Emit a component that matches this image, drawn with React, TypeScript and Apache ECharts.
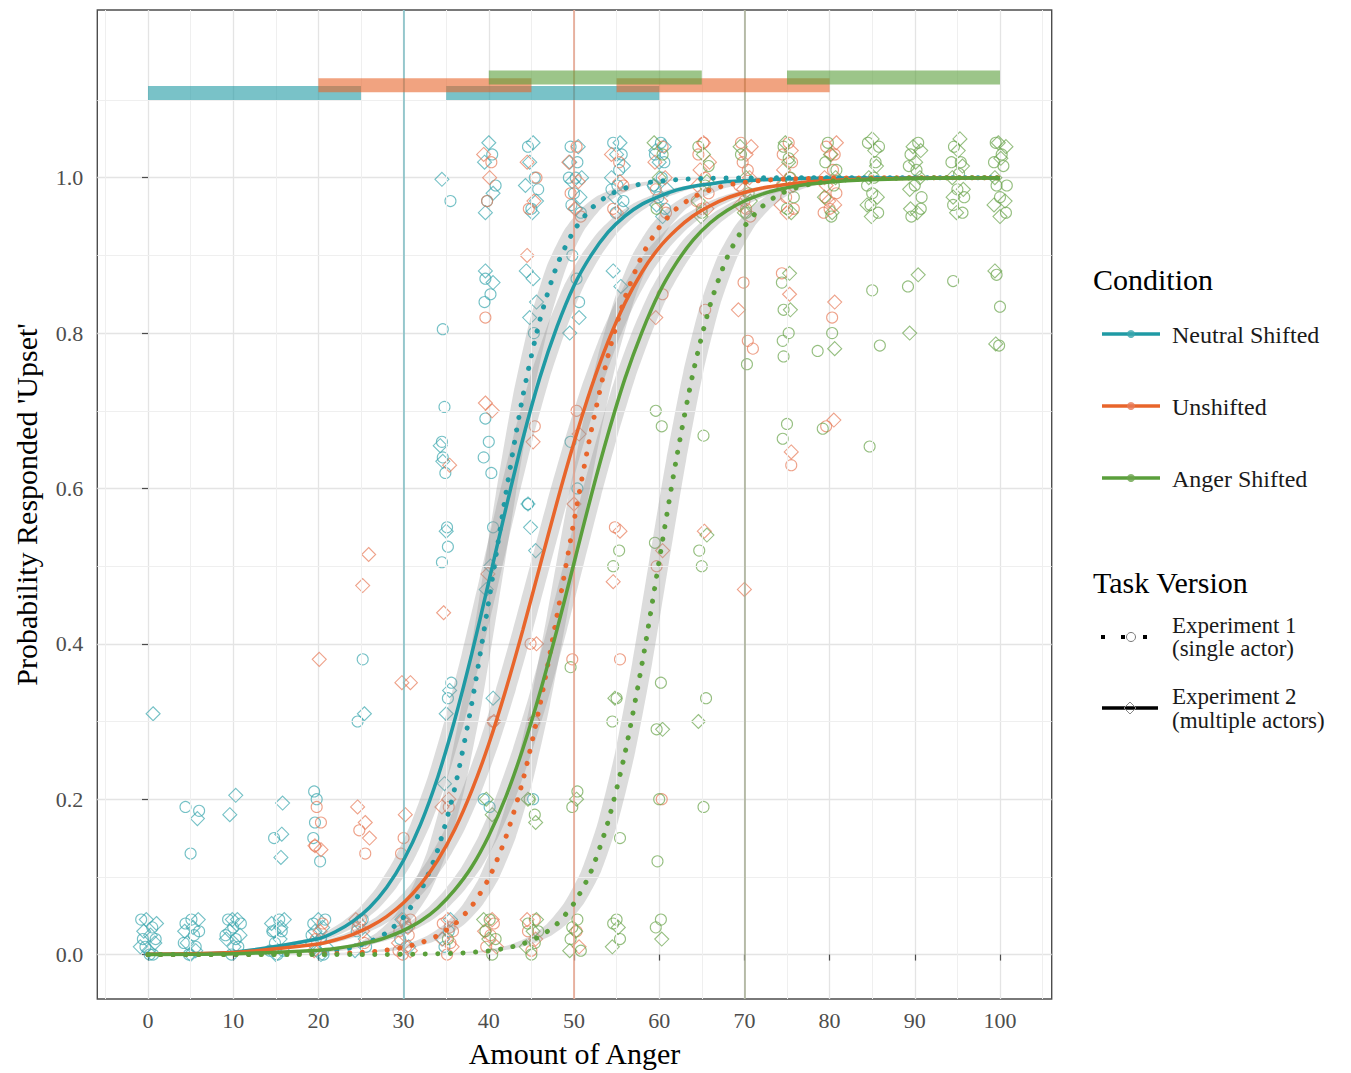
import React, { useEffect, useRef } from 'react';
import * as echarts from 'echarts';

const FONT = "'Liberation Serif', 'DejaVu Serif', 'Times New Roman', serif";

// ---------- axes ----------
const X_MIN = -5.95;
const X_MAX = 106.07;
const Y_MIN = -0.0572;
const Y_MAX = 1.2159;
const X_TICKS = [0, 10, 20, 30, 40, 50, 60, 70, 80, 90, 100];
const Y_TICKS = [0, 0.2, 0.4, 0.6, 0.8, 1.0];
const X_MINOR = [-5, 5, 15, 25, 35, 45, 55, 65, 75, 85, 95, 105];
const Y_MINOR = [0.1, 0.3, 0.5, 0.7, 0.9, 1.1];
const REF_LINES = [30, 50, 70];

// ---------- categories ----------
const CONDITIONS = ['Neutral Shifted', 'Unshifted', 'Anger Shifted'];
const VERSIONS = ['Experiment 1\n(single actor)', 'Experiment 2\n(multiple actors)'];
const LINE_COLORS = ['#1f9aa4', '#e8652b', '#5a9f3b'];
const POINT_COLORS = ['#3aa6ae', '#e77a58', '#6aa44b'];
const REF_COLORS = ['#7cbdc3', '#e6a08a', '#a6ad93'];

// ---------- fitted curves: anger levels and probability read at each ----------
const CURVE_X = [0, 10, 20, 22, 24, 26, 28, 30, 32, 34, 36, 38, 40, 42, 44, 46, 48, 50, 52, 54, 56, 58, 60, 62, 64, 66, 68, 70, 72, 74, 76, 78, 82, 90, 100];
const NEU_E1_CURVE = [0, 0.0002, 0.0031, 0.0054, 0.0094, 0.0163, 0.0282, 0.0483, 0.0816, 0.1347, 0.214, 0.323, 0.455, 0.593, 0.719, 0.817, 0.887, 0.932, 0.96, 0.977, 0.9866, 0.9923, 0.9956, 0.9975, 0.9986, 0.9992, 0.9995, 0.9997, 0.9998, 0.9999, 1, 1, 1, 1, 1];
const NEU_E2_CURVE = [0.0005, 0.0031, 0.0203, 0.0293, 0.0424, 0.0607, 0.0864, 0.1214, 0.168, 0.228, 0.302, 0.387, 0.48, 0.574, 0.664, 0.743, 0.808, 0.861, 0.9, 0.93, 0.951, 0.966, 0.976, 0.984, 0.989, 0.992, 0.995, 0.996, 0.9975, 0.998, 0.9988, 0.9992, 0.9996, 0.9999, 1];
const UNS_E1_CURVE = [0, 0.0001, 0.0008, 0.0013, 0.0022, 0.0035, 0.0057, 0.0093, 0.0151, 0.0244, 0.0392, 0.0625, 0.098, 0.151, 0.224, 0.321, 0.436, 0.558, 0.673, 0.771, 0.846, 0.9, 0.936, 0.96, 0.975, 0.9845, 0.9905, 0.9941, 0.9964, 0.9978, 0.9986, 0.9992, 0.9997, 1, 1];
const UNS_E2_CURVE = [0.0005, 0.0026, 0.0135, 0.0187, 0.0258, 0.0356, 0.0488, 0.0666, 0.0903, 0.1213, 0.161, 0.211, 0.271, 0.341, 0.418, 0.5, 0.582, 0.659, 0.729, 0.789, 0.839, 0.879, 0.91, 0.933, 0.951, 0.964, 0.974, 0.981, 0.9865, 0.99, 0.993, 0.995, 0.9974, 0.9993, 0.9999];
const ANG_E1_CURVE = [0, 0, 0, 0, 0.0001, 0.0001, 0.0002, 0.0003, 0.0006, 0.001, 0.0016, 0.0028, 0.0048, 0.0082, 0.0139, 0.0235, 0.0395, 0.066, 0.107, 0.171, 0.26, 0.375, 0.507, 0.637, 0.75, 0.837, 0.898, 0.937, 0.962, 0.978, 0.9868, 0.9922, 0.9973, 0.9997, 1];
const ANG_E2_CURVE = [0.0002, 0.001, 0.0057, 0.0079, 0.0112, 0.0158, 0.0221, 0.0311, 0.0431, 0.06, 0.0832, 0.113, 0.153, 0.203, 0.265, 0.337, 0.418, 0.504, 0.59, 0.67, 0.742, 0.802, 0.852, 0.89, 0.92, 0.942, 0.958, 0.97, 0.9786, 0.9848, 0.9892, 0.9923, 0.9961, 0.999, 0.9998];

// ---------- significance bars [from, to] and their heights ----------
const NEU_BARS = [[0, 25], [35, 60]];
const UNS_BARS = [[20, 45], [55, 80]];
const ANG_BARS = [[40, 65], [75, 100]];
const BAR_Y = [1.109, 1.119, 1.129];

// ---------- observed (jittered) responses ----------
const NEU_E1_PTS = [
  [-0.3, 0.01], [0.5, 0.035], [0.9, 0.02], [-0.8, 0.045], [0.2, 0.0], [0.6, 0.0], [-0.6, 0.02],
  [4.4, 0.04], [5.6, 0.01], [5.1, 0.045], [4.8, 0.0], [6.0, 0.03], [5.4, 0.025], [4.2, 0.015],
  [9.4, 0.045], [10.3, 0.02], [10.9, 0.04], [9.8, 0.0], [10.6, 0.01], [10.0, 0.035], [9.1, 0.025],
  [14.6, 0.03], [15.4, 0.045], [15.9, 0.005], [14.9, 0.015], [15.2, 0.0], [15.7, 0.03], [14.3, 0.005],
  [19.4, 0.04], [20.3, 0.02], [20.8, 0.045], [19.8, 0.005], [20.6, 0.0], [19.2, 0.025],
  [24.5, 0.03], [25.6, 0.01], [25.2, 0.045], [29.6, 0.02], [30.4, 0.035], [35.3, 0.03], [34.8, 0.01],
  [4.4, 0.19], [5.0, 0.13], [6.0, 0.185], [14.8, 0.15], [19.5, 0.21], [19.8, 0.2], [19.6, 0.17], [19.4, 0.15], [20.2, 0.12], [25.2, 0.38], [24.6, 0.3],
  [34.6, 0.805], [34.8, 0.705], [34.5, 0.66], [34.6, 0.64], [34.9, 0.62], [35.1, 0.55], [35.2, 0.525], [34.5, 0.505], [35.6, 0.35], [35.2, 0.33],
  [39.6, 0.87], [39.5, 0.84], [40.2, 0.85], [39.6, 0.69], [40.0, 0.66], [39.4, 0.64], [40.3, 0.62], [39.4, 0.2], [40.1, 0.19], [40.5, 0.55],
  [45.3, 0.8], [44.6, 0.58], [45.2, 0.2], [49.8, 0.9], [50.3, 0.87], [50.6, 0.84], [49.6, 0.66], [50.4, 0.6],
  [35.5, 0.97], [40.4, 1.03], [39.8, 0.97], [40.8, 0.99],
  [44.6, 1.04], [45.4, 1.0], [45.0, 0.96], [45.8, 0.985],
  [49.6, 1.04], [50.4, 1.02], [50.0, 0.98], [50.8, 0.955], [49.4, 1.0], [50.2, 1.0], [49.7, 0.965],
  [54.6, 1.045], [55.3, 1.01], [55.8, 0.97], [54.9, 0.955], [55.1, 0.99], [55.6, 1.03], [54.4, 0.985],
  [59.5, 1.03], [60.3, 1.0], [60.7, 0.96], [59.9, 0.975], [60.2, 1.045], [60.6, 1.02], [59.3, 0.99],
];
const NEU_E2_PTS = [
  [0.3, 0.025], [-0.5, 0.03], [1.0, 0.04], [0.1, 0.005], [-0.2, 0.045], [0.8, 0.015], [-0.9, 0.01],
  [5.3, 0.035], [4.6, 0.015], [5.9, 0.045], [5.0, 0.0], [5.6, 0.005], [4.3, 0.03],
  [9.6, 0.03], [10.5, 0.045], [10.1, 0.01], [9.2, 0.02], [10.8, 0.025], [9.9, 0.045],
  [15.6, 0.035], [14.5, 0.04], [15.0, 0.0], [15.5, 0.02], [14.8, 0.03], [16.0, 0.045],
  [20.5, 0.035], [19.6, 0.03], [20.9, 0.01], [20.0, 0.045], [19.3, 0.015], [20.3, 0.0],
  [24.8, 0.04], [25.5, 0.02], [24.3, 0.005], [29.8, 0.045], [30.6, 0.01], [35.5, 0.045], [34.6, 0.02],
  [0.6, 0.31], [5.8, 0.175], [10.3, 0.205], [9.6, 0.18], [15.8, 0.195], [15.7, 0.155], [15.6, 0.125], [25.4, 0.31],
  [34.3, 0.655], [34.6, 0.635], [35.0, 0.545], [35.4, 0.34], [35.0, 0.31], [34.8, 0.22],
  [39.6, 0.88], [40.5, 0.865], [40.2, 0.5], [39.7, 0.47], [40.5, 0.33],
  [44.4, 0.88], [45.2, 0.87], [45.6, 0.84], [44.8, 0.82], [44.9, 0.55], [45.5, 0.52], [44.6, 0.58],
  [49.5, 0.8], [50.6, 0.82], [55.5, 0.86], [54.6, 0.88],
  [34.5, 0.998], [39.5, 1.02], [40.5, 0.98], [40.0, 1.045], [39.6, 0.955],
  [44.8, 1.02], [45.6, 0.97], [44.3, 0.99], [45.2, 1.045], [45.1, 0.955],
  [50.5, 1.04], [49.8, 0.995], [50.2, 0.96], [49.5, 1.02], [50.9, 1.0], [50.7, 0.975],
  [55.0, 1.03], [54.4, 1.0], [55.6, 0.96], [55.4, 1.045], [54.8, 0.975], [55.8, 1.015],
  [60.0, 1.02], [59.4, 0.99], [60.6, 1.04], [60.4, 0.95], [59.7, 0.965], [60.9, 0.985], [59.6, 1.035],
];
const UNS_E1_PTS = [
  [19.7, 0.02], [20.5, 0.04], [24.6, 0.035], [25.4, 0.015], [25.0, 0.045],
  [29.5, 0.03], [30.3, 0.01], [30.8, 0.045], [29.9, 0.0], [30.6, 0.025], [30.2, 0.04], [29.4, 0.005],
  [34.6, 0.04], [35.5, 0.015], [35.1, 0.0], [35.8, 0.03], [35.4, 0.035],
  [39.7, 0.01], [40.6, 0.04], [40.2, 0.025], [44.6, 0.03], [45.4, 0.045], [45.0, 0.005], [50.3, 0.03],
  [19.8, 0.19], [20.3, 0.17], [19.6, 0.14], [24.8, 0.16], [25.5, 0.13], [30.0, 0.15], [29.7, 0.13], [35.3, 0.19],
  [39.6, 0.82], [40.5, 0.3], [45.4, 0.68], [44.9, 0.4], [45.3, 0.3], [50.3, 0.7], [49.8, 0.38],
  [55.4, 0.38], [54.8, 0.55], [60.4, 0.85], [59.7, 0.5], [60.3, 0.2], [65.4, 0.83],
  [69.9, 0.865], [70.4, 0.79], [71.0, 0.78], [74.4, 0.877], [75.5, 0.63], [80.3, 0.82], [79.6, 0.68],
  [40.3, 1.02], [39.8, 0.97], [45.6, 1.0], [44.7, 0.96],
  [50.3, 1.04], [49.6, 0.98], [50.8, 0.95], [55.3, 1.02], [54.6, 0.96], [55.8, 0.99],
  [60.4, 1.04], [59.6, 0.985], [60.8, 0.955],
  [64.6, 1.03], [65.4, 1.0], [65.0, 0.96], [65.8, 0.98], [65.2, 1.045], [64.4, 0.97],
  [69.6, 1.045], [70.4, 1.01], [70.0, 0.97], [70.7, 0.95], [69.4, 0.99], [70.2, 0.96], [69.8, 1.02],
  [74.5, 1.03], [75.3, 1.0], [75.8, 0.96], [74.9, 0.975], [75.2, 1.045], [75.6, 1.02], [74.4, 0.99],
  [79.6, 1.04], [80.4, 1.01], [80.0, 0.96], [80.8, 0.98], [79.3, 0.955], [80.6, 1.03], [79.5, 0.975],
];
const UNS_E2_PTS = [
  [20.2, 0.03], [19.5, 0.005], [25.2, 0.03], [24.4, 0.045],
  [30.5, 0.035], [29.4, 0.015], [30.0, 0.045], [30.8, 0.005],
  [35.2, 0.045], [34.5, 0.02], [35.7, 0.01], [40.4, 0.045], [39.5, 0.03], [40.9, 0.01],
  [45.5, 0.02], [44.5, 0.045], [50.6, 0.01],
  [20.1, 0.38], [19.6, 0.14], [20.3, 0.135], [25.2, 0.475], [25.9, 0.515], [24.6, 0.19], [25.5, 0.17], [26.0, 0.15],
  [29.8, 0.35], [30.8, 0.35], [30.2, 0.18], [35.4, 0.63], [34.7, 0.44], [35.3, 0.2], [34.5, 0.19],
  [39.6, 0.71], [40.4, 0.7], [39.9, 0.49], [40.6, 0.3], [44.5, 0.9], [45.2, 0.66], [45.6, 0.4],
  [50.6, 0.67], [50.0, 0.58], [55.4, 0.545], [54.6, 0.48], [60.4, 0.52], [59.6, 0.82], [65.3, 0.545],
  [69.3, 0.83], [70.0, 0.47], [75.3, 0.85], [75.5, 0.647], [80.6, 0.84], [80.5, 0.688],
  [40.1, 1.0], [39.4, 1.03], [44.5, 1.02], [45.3, 0.97],
  [49.4, 1.02], [50.5, 0.995], [50.1, 0.96], [54.4, 1.03], [55.4, 0.995], [55.0, 0.955],
  [59.5, 1.02], [60.2, 0.97], [60.7, 1.0],
  [64.5, 0.99], [65.2, 1.045], [65.6, 0.96], [64.8, 1.01], [65.9, 1.02],
  [70.2, 1.03], [69.5, 0.965], [70.6, 1.0], [69.9, 0.985], [70.8, 1.04],
  [74.6, 1.01], [75.5, 1.035], [75.0, 0.955], [75.7, 0.99], [74.3, 0.965],
  [80.2, 1.03], [79.4, 1.0], [80.6, 0.965], [79.9, 0.97], [80.8, 1.045], [79.6, 0.99],
];
const ANG_E1_PTS = [
  [35.2, 0.02], [39.6, 0.03], [40.4, 0.0], [40.8, 0.02], [40.1, 0.045],
  [44.6, 0.04], [45.4, 0.015], [45.0, 0.0], [45.8, 0.03],
  [49.6, 0.02], [50.4, 0.045], [50.8, 0.005], [49.8, 0.035],
  [54.6, 0.04], [55.4, 0.02], [55.0, 0.045], [59.6, 0.035], [60.2, 0.045],
  [44.8, 0.2], [45.4, 0.18], [49.6, 0.37], [50.4, 0.21], [49.8, 0.19],
  [54.6, 0.5], [55.3, 0.52], [55.0, 0.33], [54.5, 0.3], [55.4, 0.15],
  [59.6, 0.7], [60.3, 0.68], [59.5, 0.53], [60.2, 0.35], [59.7, 0.29], [60.0, 0.2], [59.8, 0.12],
  [65.2, 0.668], [64.7, 0.52], [65.0, 0.5], [65.5, 0.33], [65.2, 0.19], [70.3, 0.76],
  [74.4, 0.865], [74.6, 0.83], [75.2, 0.8], [74.5, 0.79], [74.6, 0.77], [75.0, 0.683], [74.5, 0.664],
  [78.6, 0.777], [79.2, 0.677], [80.3, 0.8],
  [85.0, 0.855], [85.9, 0.784], [84.7, 0.654], [89.2, 0.86], [94.5, 0.867],
  [99.6, 0.875], [100.0, 0.834], [99.9, 0.784],
  [60.4, 1.03], [59.7, 0.96], [64.6, 1.04], [65.4, 0.99], [65.0, 0.955], [65.8, 1.015],
  [69.6, 1.03], [70.5, 0.98], [70.2, 0.955],
  [74.6, 1.04], [75.4, 1.0], [75.0, 0.96], [75.8, 0.975], [75.2, 1.025],
  [79.5, 1.02], [80.5, 0.99], [80.2, 0.95], [79.8, 1.045], [80.8, 1.01],
  [84.5, 1.045], [85.4, 1.02], [85.0, 0.98], [85.7, 0.955], [84.8, 0.965], [85.2, 1.0], [85.8, 1.04], [84.4, 0.99],
  [89.5, 1.03], [90.4, 1.045], [90.0, 0.99], [90.7, 0.96], [89.6, 0.95], [90.2, 1.01], [89.3, 1.015], [90.8, 0.975],
  [94.6, 1.04], [95.4, 1.02], [95.0, 0.985], [95.6, 0.955], [94.5, 0.965], [95.2, 1.005], [94.3, 1.02], [95.8, 0.975],
  [99.5, 1.045], [100.4, 1.015], [100.0, 0.975], [100.7, 0.955], [99.6, 0.99], [100.2, 1.03], [99.3, 1.02], [100.8, 0.99],
];
const ANG_E2_PTS = [
  [40.0, 0.02], [39.4, 0.045], [45.2, 0.03], [44.4, 0.01], [45.6, 0.045],
  [50.2, 0.03], [49.5, 0.005], [55.2, 0.035], [54.5, 0.01], [60.3, 0.02],
  [39.7, 0.2], [40.4, 0.18], [44.6, 0.2], [45.5, 0.17], [50.3, 0.2], [54.8, 0.33], [60.4, 0.29],
  [65.6, 0.54], [64.6, 0.3], [75.3, 0.877], [75.4, 0.83], [80.6, 0.78], [90.4, 0.875], [89.4, 0.8],
  [99.4, 0.88], [99.5, 0.786],
  [60.0, 1.0], [59.4, 1.045], [65.2, 1.03], [64.6, 0.97], [65.6, 0.995], [64.9, 0.95],
  [70.2, 1.0], [69.5, 1.04], [70.7, 0.97], [70.0, 0.955],
  [75.2, 1.02], [74.5, 0.99], [75.5, 0.955], [74.8, 1.045],
  [80.1, 1.03], [79.4, 0.975], [80.7, 1.0], [80.3, 0.955],
  [85.3, 1.035], [84.6, 1.0], [85.6, 0.975], [84.9, 0.95], [85.0, 1.05], [85.5, 1.015], [84.4, 0.965],
  [90.1, 1.02], [89.4, 0.985], [90.6, 1.0], [90.3, 0.955], [89.8, 1.04], [90.7, 1.035], [89.5, 0.96],
  [95.1, 1.035], [94.4, 1.0], [95.7, 0.985], [94.9, 0.955], [95.3, 1.05], [95.6, 1.015], [94.5, 0.975],
  [100.1, 1.025], [99.4, 1.0], [100.6, 0.97], [100.0, 0.95], [99.8, 1.045], [100.7, 1.04], [99.3, 0.965],
];

const CURVES = [
  [NEU_E1_CURVE, NEU_E2_CURVE],
  [UNS_E1_CURVE, UNS_E2_CURVE],
  [ANG_E1_CURVE, ANG_E2_CURVE],
];
const POINTS = [
  [NEU_E1_PTS, NEU_E2_PTS],
  [UNS_E1_PTS, UNS_E2_PTS],
  [ANG_E1_PTS, ANG_E2_PTS],
];
const BARS = [NEU_BARS, UNS_BARS, ANG_BARS];

const RIBBON_HALF = 10; // px, horizontal half-width of grey confidence band

function buildOption() {
  const series: any[] = [];

  // minor grid lines
  series.push({
    type: 'line', data: [], z: 1, silent: true,
    markLine: {
      silent: true, symbol: ['none', 'none'], label: { show: false }, animation: false,
      lineStyle: { color: '#efefef', width: 1, type: 'solid' },
      emphasis: { disabled: true },
      data: [...X_MINOR.map((v) => ({ xAxis: v })), ...Y_MINOR.map((v) => ({ yAxis: v }))],
    },
  });
  // reference lines
  series.push({
    type: 'line', data: [], z: 2, silent: true,
    markLine: {
      silent: true, symbol: ['none', 'none'], label: { show: false }, animation: false,
      emphasis: { disabled: true },
      data: REF_LINES.map((v, i) => ({ xAxis: v, lineStyle: { color: REF_COLORS[i], width: 1.5, type: 'solid' } })),
    },
  });

  // scatter
  POINTS.forEach((pair, c) => {
    pair.forEach((pts, e) => {
      series.push({
        type: 'scatter', name: CONDITIONS[c] + ' ' + (e + 1), data: pts, z: 3, silent: true,
        symbol: e === 0 ? 'circle' : 'diamond',
        symbolSize: e === 0 ? 11 : 14,
        itemStyle: { color: 'rgba(0,0,0,0)', borderColor: POINT_COLORS[c], borderWidth: 1.1, opacity: 0.7 },
      });
    });
  });

  const toPairs = (ys: number[]) => CURVE_X.map((x, i) => [x, ys[i]]);

  // ribbons
  CURVES.forEach((pair) => {
    pair.forEach((ys) => {
      const curve = toPairs(ys);
      series.push({
        type: 'custom', coordinateSystem: 'cartesian2d', z: 4, silent: true,
        data: [curve[0]],
        renderItem: (_params: any, api: any) => {
          const pts = curve.map((p) => api.coord(p));
          const left = pts.map((p: number[]) => [p[0] - RIBBON_HALF, p[1]]);
          const right = pts.map((p: number[]) => [p[0] + RIBBON_HALF, p[1]]).reverse();
          return {
            type: 'polygon',
            shape: { points: left.concat(right), smooth: 0.2 },
            style: { fill: 'rgba(150,150,150,0.33)', stroke: 'none' },
          };
        },
      });
    });
  });

  // fitted lines
  CURVES.forEach((pair, c) => {
    pair.forEach((ys, e) => {
      series.push({
        type: 'line', data: toPairs(ys), z: 5, silent: true, showSymbol: false,
        smooth: 0.25,
        lineStyle: e === 0
          ? { color: LINE_COLORS[c], width: 5, type: [0.1, 12.5], cap: 'round' }
          : { color: LINE_COLORS[c], width: 3.5, type: 'solid' },
      });
    });
  });

  // significance bars
  BARS.forEach((segs, c) => {
    segs.forEach((seg) => {
      series.push({
        type: 'line', z: 6, silent: true, showSymbol: false,
        data: [[seg[0], BAR_Y[c]], [seg[1], BAR_Y[c]]],
        lineStyle: { color: LINE_COLORS[c], width: 14, cap: 'butt', opacity: 0.6 },
      });
    });
  });

  // legend graphics
  const g: any[] = [];
  const LX = 1093;
  g.push({ type: 'text', x: LX, y: 279, style: { text: 'Condition', fontSize: 30, fontFamily: FONT, fill: '#000', verticalAlign: 'middle', align: 'left' } });
  const CY = [334, 406, 478];
  CONDITIONS.forEach((name, i) => {
    g.push({ type: 'line', shape: { x1: 1102, y1: CY[i], x2: 1160, y2: CY[i] }, style: { stroke: LINE_COLORS[i], lineWidth: 3.5 } });
    g.push({ type: 'circle', shape: { cx: 1131, cy: CY[i], r: 4 }, style: { fill: POINT_COLORS[i], opacity: 0.8 } });
    g.push({ type: 'text', x: 1172, y: CY[i] + 1, style: { text: name, fontSize: 24, fontFamily: FONT, fill: '#1a1a1a', verticalAlign: 'middle', align: 'left' } });
  });
  g.push({ type: 'text', x: LX, y: 582, style: { text: 'Task Version', fontSize: 30, fontFamily: FONT, fill: '#000', verticalAlign: 'middle', align: 'left' } });
  // experiment 1 key
  [1101, 1121, 1143].forEach((x) => {
    g.push({ type: 'rect', shape: { x, y: 635, width: 4, height: 4 }, style: { fill: '#000' } });
  });
  g.push({ type: 'circle', shape: { cx: 1131, cy: 637, r: 4.5 }, style: { fill: '#fff', stroke: '#777', lineWidth: 1 } });
  g.push({ type: 'text', x: 1172, y: 637, style: { text: VERSIONS[0], fontSize: 23, lineHeight: 23, fontFamily: FONT, fill: '#1a1a1a', verticalAlign: 'middle', align: 'left' } });
  // experiment 2 key
  g.push({ type: 'line', shape: { x1: 1102, y1: 708, x2: 1158, y2: 708 }, style: { stroke: '#000', lineWidth: 3.5 } });
  g.push({ type: 'polygon', shape: { points: [[1130, 702], [1136, 708], [1130, 714], [1124, 708]] }, style: { fill: 'rgba(0,0,0,0)', stroke: '#888', lineWidth: 1 } });
  g.push({ type: 'text', x: 1172, y: 708, style: { text: VERSIONS[1], fontSize: 23, lineHeight: 24, fontFamily: FONT, fill: '#1a1a1a', verticalAlign: 'middle', align: 'left' } });

  return {
    animation: false,
    backgroundColor: '#ffffff',
    textStyle: { fontFamily: FONT },
    grid: {
      left: 97.3, top: 10, width: 954.4, height: 990.5,
      show: true, borderColor: '#4d4d4d', borderWidth: 1.4, backgroundColor: 'rgba(0,0,0,0)',
    },
    xAxis: {
      type: 'value', min: X_MIN, max: X_MAX, splitNumber: 11, minInterval: 10, maxInterval: 10,
      axisLine: { show: false },
      axisTick: { show: true, length: 6, lineStyle: { color: '#4d4d4d', width: 1.2 }, customValues: X_TICKS },
      axisLabel: { customValues: X_TICKS, margin: 10, fontSize: 22, color: '#4d4d4d', fontFamily: FONT },
      splitLine: { show: true, lineStyle: { color: '#e4e4e4', width: 1.3 } },
      name: 'Amount of Anger', nameLocation: 'middle', nameGap: 39,
      nameTextStyle: { fontSize: 30, color: '#000', fontFamily: FONT },
    },
    yAxis: {
      type: 'value', min: Y_MIN, max: Y_MAX, splitNumber: 6, minInterval: 0.2, maxInterval: 0.2,
      axisLine: { show: false },
      axisTick: { show: true, length: 6, lineStyle: { color: '#4d4d4d', width: 1.2 }, customValues: Y_TICKS },
      axisLabel: { customValues: Y_TICKS, margin: 14, fontSize: 22, color: '#4d4d4d', fontFamily: FONT, formatter: (v: number) => v.toFixed(1) },
      splitLine: { show: true, lineStyle: { color: '#e4e4e4', width: 1.3 } },
      name: "Probability Responded 'Upset'", nameLocation: 'middle', nameGap: 56,
      nameTextStyle: { fontSize: 30, color: '#000', fontFamily: FONT },
    },
    series,
    graphic: g,
  };
}

export default function App() {
  const ref = useRef<HTMLDivElement>(null);
  useEffect(() => {
    document.body.style.margin = '0';
    if (!ref.current) return;
    const chart = echarts.init(ref.current, null, { renderer: 'svg' });
    chart.setOption(buildOption() as any);
    return () => chart.dispose();
  }, []);
  return <div ref={ref} style={{ width: 1351, height: 1073 }} />;
}
